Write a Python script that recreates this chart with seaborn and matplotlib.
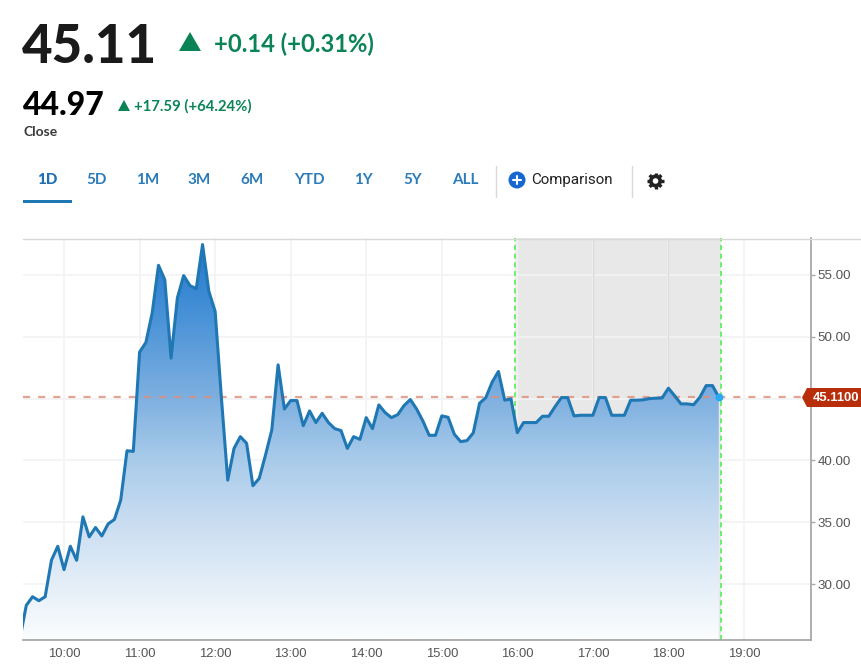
import numpy as np
import pandas as pd
import matplotlib
matplotlib.use("Agg")
import matplotlib.pyplot as plt
from matplotlib.colors import LinearSegmentedColormap
from matplotlib.patches import Polygon, Circle, Rectangle
from matplotlib.lines import Line2D
import seaborn as sns

W, H = 861, 672

# ---- data ----
minutes = list(range(565, 1121, 5))  # 09:25 .. 18:40, one reading per 5 minutes
prices = [
    25.6, 28.27, 28.97, 28.65, 28.97, 31.92, 33.05, 31.16, 33.05, 31.92, 35.43, 33.81,
    34.57, 33.89, 34.86, 35.22, 36.78, 40.78, 40.73, 48.76, 49.54, 51.92, 55.78, 54.62,
    48.27, 53.14, 54.95, 54.14, 53.89, 57.46, 53.68, 52.05, 45.03, 38.4, 40.97, 41.92,
    41.38, 37.95, 38.54, 40.43, 42.46, 47.73, 44.16, 44.84, 44.84, 42.81, 44.0, 43.06,
    43.81, 43.06, 42.57, 42.41, 40.97, 41.92, 41.70, 43.46, 42.57, 44.49, 43.87, 43.46,
    43.70, 44.43, 44.92, 44.16, 43.19, 42.03, 42.03, 43.6, 43.49, 42.11, 41.52, 41.6,
    42.22, 44.62, 45.08, 46.33, 47.19, 44.87, 44.97, 42.24, 43.06, 43.06, 43.06, 43.57,
    43.57, 44.35, 45.08, 45.08, 43.6, 43.65, 43.65, 43.65, 45.08, 45.08, 43.65, 43.65,
    43.65, 44.87, 44.87, 44.9, 45.0, 45.03, 45.05, 45.84, 45.22, 44.57, 44.57, 44.5,
    45.11, 46.05, 46.05, 45.11,
]
x_hours = [10, 11, 12, 13, 14, 15, 16, 17, 18, 19]
x_labels = ["10:00", "11:00", "12:00", "13:00", "14:00", "15:00", "16:00", "17:00", "18:00", "19:00"]
y_ticks = [30, 35, 40, 45, 50, 55]
y_labels = ["30.00", "35.00", "40.00", "", "50.00", "55.00"]
last_price = 45.11
last_label = "45.1100"
session_start, session_end = 15.973, 18.693
tabs = ["1D", "5D", "1M", "3M", "6M", "YTD", "1Y", "5Y", "ALL"]
tab_centers = [47.5, 97, 148, 199, 252, 309.5, 363.5, 412.5, 465.5]

BLUE = "#1f77b4"
GREEN = "#0a8457"

sns.set_theme(style="white")
plt.rcParams["font.family"] = ["Lato", "DejaVu Sans"]

fig = plt.figure(figsize=(W / 100, H / 100), dpi=100, facecolor="white")
ax = fig.add_axes([23 / W, 1 - 640 / H, (811 - 23) / W, (640 - 238) / H])
ax.set_facecolor("white")

df = pd.DataFrame({"hour": np.array(minutes) / 60, "price": prices})

ax.grid(True, color="#f3f3f3", lw=1.3, zorder=0)
ax.set_axisbelow(True)
ax.axvspan(session_start, session_end, color="#e8e8e8", lw=0, zorder=0.5)
for h in x_hours:
    if session_start < h < session_end and h != 16:
        ax.axvline(h, color="#dddddd", lw=1, zorder=0.6)

for xv in (session_start, session_end):
    ax.axvline(xv, color="#55ee55", lw=1.2, ls=(0, (3, 2.2)), zorder=0.8)

# gradient-filled area under the line
poly = ax.fill_between(df["hour"], df["price"], 0, color="none", lw=0)
cmap = LinearSegmentedColormap.from_list(
    "area", [(0, "#fbfdfe"), (0.15, "#e2edf8"), (0.30, "#c8dcf1"), (0.45, "#a8cbea"),
             (0.60, "#7fb0e0"), (0.80, "#4a93d8"), (0.92, "#2f81d0"), (1, "#1f72c8")])
img = ax.imshow(np.linspace(1, 0, 256).reshape(-1, 1), cmap=cmap, aspect="auto", vmin=0, vmax=1,
                extent=[9, 20, 25.47, 57.99], zorder=1, interpolation="bilinear")
img.set_clip_path(poly.get_paths()[0], transform=ax.transData)

ax.axhline(last_price, color="#dd8f78", lw=1.6, ls=(0, (3.2, 3.6)), alpha=0.8, zorder=1.5)

sns.lineplot(data=df, x="hour", y="price", ax=ax, color=BLUE, lw=2.2, estimator=None,
             errorbar=None, zorder=3)
ax.scatter([df["hour"].iloc[-1]], [prices[-1]], s=32, color="#27a9f5", lw=0, zorder=4)

ax.set_xlim(9 + 27.4 / 60, 10 + (811 - 64) / 75.55)
ax.set_ylim(25.47, 57.99)
ax.set_xlabel("")
ax.set_ylabel("")
ax.set_xticks(x_hours, x_labels, family="Liberation Sans", fontsize=9.4, color="#555555")
ax.set_yticks(y_ticks, y_labels, family="Liberation Sans", fontsize=9.6, color="#555555")
ax.yaxis.tick_right()
ax.tick_params(axis="y", length=3, width=1, color="#aaaaaa", pad=1.5, right=True)
ax.tick_params(axis="x", length=0, pad=6)
for s in ("left", "top"):
    ax.spines[s].set_visible(False)
for s in ("right", "bottom"):
    ax.spines[s].set_color("#a8a8a8")
    ax.spines[s].set_linewidth(1.3)


def fx(x):
    return x / W


def fy(y):
    return 1 - y / H


def txt(x, y, s, **kw):
    kw.setdefault("va", "center")
    return fig.text(fx(x), fy(y), s, **kw)


def poly_px(points, **kw):
    fig.add_artist(Polygon([(fx(a), fy(b)) for a, b in points], closed=True,
                           transform=fig.transFigure, lw=0, **kw))


def hline_px(x0, x1, y, **kw):
    fig.add_artist(Line2D([fx(x0), fx(x1)], [fy(y), fy(y)], transform=fig.transFigure, **kw))


def vline_px(x, y0, y1, **kw):
    fig.add_artist(Line2D([fx(x), fx(x)], [fy(y0), fy(y1)], transform=fig.transFigure, **kw))


def disc_px(x, y, r, **kw):
    fig.add_artist(Circle((x, H - y), r, transform=None, lw=0, **kw))


# top border
hline_px(23, 861, 238.5, color="#d8d8d8", lw=1)

# price tag
poly_px([(802, 397.5), (807, 388), (861, 388), (861, 407), (807, 407)], color="#b82e0a", zorder=6)
txt(836, 398, last_label, color="white", fontsize=9.4, fontweight="bold", ha="center",
    family="Liberation Sans", zorder=7)

# header
txt(22, 63, "45.11", fontsize=38, fontweight="black", color="#1a1a1a", va="baseline")
poly_px([(179, 51), (190, 32), (201, 51)], color=GREEN)
txt(214, 52, "+0.14 (+0.31%)", fontsize=17.1, fontweight="bold", color=GREEN, va="baseline")
txt(23, 115, "44.97", fontsize=23, fontweight="black", color="#000000", va="baseline")
poly_px([(118, 111), (124, 100), (130, 111)], color=GREEN)
txt(134, 111, "+17.59 (+64.24%)", fontsize=10.7, fontweight="bold", color=GREEN, va="baseline")
txt(23, 136.5, "Close", fontsize=10, fontweight="bold", color="#3a3a3a", va="baseline")

# tabs
for i, (t, c) in enumerate(zip(tabs, tab_centers)):
    txt(c, 180.5, t, ha="center", fontsize=11, fontweight="black" if i == 0 else "bold",
        color="#1f6fb2" if i == 0 else "#2b7bba")
fig.add_artist(Rectangle((fx(23), fy(203)), (72 - 23) / W, 3 / H, transform=fig.transFigure,
                         color=BLUE, lw=0))
vline_px(495.5, 166, 197, color="#d9d9d9", lw=1)
vline_px(631.5, 166, 197, color="#d9d9d9", lw=1)
disc_px(517, 180, 8.5, color="#1668d0", zorder=8)
hline_px(513, 521, 180, color="white", lw=1.5, zorder=9)
vline_px(517, 176, 184, color="white", lw=1.5, zorder=9)
txt(531, 180, "Comparison", fontsize=10.9, color="#222222", family="Roboto")

# gear icon
for a in np.deg2rad(np.arange(0, 180, 45)):
    dx, dy = 8.3 * np.cos(a), 8.3 * np.sin(a)
    fig.add_artist(Line2D([fx(655.5 - dx), fx(655.5 + dx)], [fy(181 - dy), fy(181 + dy)],
                          transform=fig.transFigure, color="#222222", lw=2.4, solid_capstyle="butt"))
disc_px(655.5, 181, 6.5, color="#222222")
disc_px(655.5, 181, 2.8, color="white", zorder=5)

fig.savefig("out.png", dpi=100, facecolor="white")
